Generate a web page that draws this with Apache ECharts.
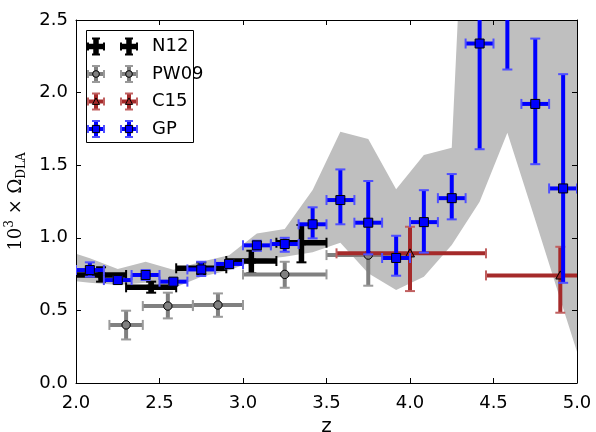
<!DOCTYPE html>
<html>
<head>
<meta charset="utf-8">
<script src="https://cdn.jsdelivr.net/npm/echarts@6/dist/echarts.min.js"></script>
<style>html,body{margin:0;padding:0;background:#fff;}#c{width:596px;height:432px;}</style>
</head>
<body>
<div id="c"></div>
<script>
// ---------- data ----------
const xTicks = [2.0, 2.5, 3.0, 3.5, 4.0, 4.5, 5.0];
const yTicks = [0.0, 0.5, 1.0, 1.5, 2.0, 2.5];

// GP
const gpZ   = [2.083,2.25,2.417,2.583,2.75,2.917,3.083,3.25,3.417,3.583,3.75,3.917,4.083,4.25,4.417,4.583,4.75,4.917];
const gpZlo = [2.0,2.167,2.333,2.5,2.667,2.833,3.0,3.167,3.333,3.5,3.667,3.833,4.0,4.167,4.333,4.5,4.667,4.833];
const gpZhi = [2.167,2.333,2.5,2.667,2.833,3.0,3.167,3.333,3.5,3.667,3.833,4.0,4.167,4.333,4.5,4.667,4.833,5.0];
const gpOmega = [0.778,0.709,0.744,0.698,0.782,0.820,0.948,0.957,1.093,1.26,1.104,0.861,1.108,1.273,2.338,2.85,1.922,1.34];
const gpLo    = [0.732,0.686,0.709,0.675,0.737,0.790,0.910,0.904,0.996,1.093,0.886,0.739,0.898,1.127,1.61,2.159,1.507,0.69];
const gpHi    = [0.831,0.732,0.778,0.720,0.835,0.847,0.980,1.000,1.210,1.471,1.391,1.014,1.328,1.439,3.07,3.55,2.372,2.127];

// N12
const n12Z   = [2.15,2.45,2.75,3.05,3.35];
const n12Zlo = [2.0,2.3,2.6,2.9,3.2];
const n12Zhi = [2.3,2.6,2.9,3.2,3.5];
const n12Omega = [0.744,0.659,0.79,0.84,0.966];
const n12Lo    = [0.698,0.622,0.75,0.755,0.831];
const n12Hi    = [0.797,0.698,0.83,0.911,1.088];

// PW09
const pwZ   = [2.3,2.55,2.85,3.25,3.75];
const pwZlo = [2.2,2.4,2.7,3.0,3.5];
const pwZhi = [2.4,2.7,3.0,3.5,4.0];
const pwOmega = [0.40,0.53,0.537,0.748,0.881];
const pwLo    = [0.30,0.445,0.456,0.656,0.67];
const pwHi    = [0.498,0.622,0.617,0.835,1.09];

// C15
const c15Z   = [4.0,4.9];
const c15Zlo = [3.56,4.455];
const c15Zhi = [4.455,5.35];
const c15Omega = [0.893,0.741];
const c15Lo    = [0.633,0.484];
const c15Hi    = [1.076,0.938];

// grey band
const bandZ  = [2.0,2.083,2.25,2.417,2.583,2.75,2.917,3.083,3.25,3.417,3.583,3.75,3.917,4.083,4.25,4.417,4.583,4.75,4.917,5.0];
const bandHi = [0.89,0.86,0.785,0.835,0.78,0.835,0.88,1.03,1.06,1.33,1.73,1.68,1.335,1.57,1.62,5.7,5.5,5.0,4.5,4.5];
const bandLo = [0.70,0.69,0.675,0.69,0.652,0.732,0.776,0.847,0.87,0.90,0.966,0.755,0.64,0.732,0.95,1.248,1.723,1.122,0.514,0.215];

const legendNames = ['N12','PW09','C15','GP'];

// ---------- styles ----------
const FONT = 'DejaVu Sans';
const styles = {
  N12:  {color:'#000000', cap:'#000000', lw:5.5, marker:'plus'},
  PW09: {color:'#808080', cap:'#9a9a9a', lw:4,   marker:'circle'},
  C15:  {color:'#a52a2a', cap:'#c06060', lw:4,   marker:'triangle'},
  GP:   {color:'#0000ff', cap:'#4f4fff', lw:4,   marker:'square'}
};

function markerShape(kind, cx, cy, color, scale, z) {
  const s = scale || 1;
  let el;
  if (kind === 'square') {
    const h = 4.5*s;
    el = {type:'rect', shape:{x:cx-h, y:cy-h, width:2*h, height:2*h}, style:{fill:color, stroke:'#000', lineWidth:1}};
  } else if (kind === 'circle') {
    el = {type:'circle', shape:{cx:cx, cy:cy, r:4.2*s}, style:{fill:color, stroke:'#000', lineWidth:1}};
  } else if (kind === 'triangle') {
    const h = 4.5*s;
    el = {type:'polygon', shape:{points:[[cx,cy-h],[cx-h,cy+h*0.8],[cx+h,cy+h*0.8]]}, style:{fill:color, stroke:'#000', lineWidth:1}};
  } else {
    const a = 4.5*s, w = 2.5*s;
    el = {type:'polygon', shape:{points:[[cx-w,cy-a],[cx+w,cy-a],[cx+w,cy-w],[cx+a,cy-w],[cx+a,cy+w],[cx+w,cy+w],[cx+w,cy+a],[cx-w,cy+a],[cx-w,cy+w],[cx-a,cy+w],[cx-a,cy-w],[cx-w,cy-w]]}, style:{fill:color}};
  }
  if (z !== undefined) el.z = z;
  return el;
}

function errorGroup(l, r, b, t, st, capLen, z) {
  const ch = [];
  const add = (e) => { if (z !== undefined) e.z = z; ch.push(e); };
  add({type:'line', shape:{x1:l[0], y1:l[1], x2:r[0], y2:r[1]}, style:{stroke:st.color, lineWidth:st.lw}});
  add({type:'line', shape:{x1:b[0], y1:b[1], x2:t[0], y2:t[1]}, style:{stroke:st.color, lineWidth:st.lw}});
  const cl = capLen;
  add({type:'line', shape:{x1:l[0], y1:l[1]-cl, x2:l[0], y2:l[1]+cl}, style:{stroke:st.cap, lineWidth:2}});
  add({type:'line', shape:{x1:r[0], y1:r[1]-cl, x2:r[0], y2:r[1]+cl}, style:{stroke:st.cap, lineWidth:2}});
  add({type:'line', shape:{x1:b[0]-cl, y1:b[1], x2:b[0]+cl, y2:b[1]}, style:{stroke:st.cap, lineWidth:2}});
  add({type:'line', shape:{x1:t[0]-cl, y1:t[1], x2:t[0]+cl, y2:t[1]}, style:{stroke:st.cap, lineWidth:2}});
  return ch;
}

function errSeries(name, z, zlo, zhi, v, lo, hi) {
  const st = styles[name];
  return {
    name: name, type:'custom', xAxisIndex:0, yAxisIndex:0, clip:true,
    data: z.map((x,i)=>[x, v[i], zlo[i], zhi[i], lo[i], hi[i]]),
    renderItem: function(params, api) {
      const c = api.coord([api.value(0), api.value(1)]);
      const l = api.coord([api.value(2), api.value(1)]);
      const r = api.coord([api.value(3), api.value(1)]);
      const b = api.coord([api.value(0), api.value(4)]);
      const t = api.coord([api.value(0), api.value(5)]);
      const ch = errorGroup(l, r, b, t, st, 5);
      ch.push(markerShape(st.marker, c[0], c[1], st.color, 1));
      const cs = params.coordSys;
      return {type:'group', children:ch, clipPath:{type:'rect', shape:{x:cs.x, y:cs.y, width:cs.width, height:cs.height}}};
    }
  };
}

const bandSeries = {
  name:'band', type:'custom', xAxisIndex:0, yAxisIndex:0, clip:true, z:0,
  data:[[0]],
  renderItem: function(params, api) {
    const top = bandZ.map((x,i)=>api.coord([x, bandHi[i]]));
    const bot = bandZ.map((x,i)=>api.coord([x, bandLo[i]])).reverse();
    const cs = params.coordSys;
    return {type:'polygon', shape:{points: top.concat(bot)}, style:{fill:'#bfbfbf'},
      clipPath:{type:'rect', shape:{x:cs.x, y:cs.y, width:cs.width, height:cs.height}}};
  }
};

// legend graphic (legend box, not data)
const legX = 86, legY = 30, legW = 107, legH = 112;
const rowY0 = 46.5, rowDY = 27.5;
const legendGraphic = [{type:'rect', shape:{x:legX+0.5, y:legY+0.5, width:legW, height:legH}, style:{fill:'#fff', stroke:'#000', lineWidth:1}, z:100}];
legendNames.forEach((n, i) => {
  const st = styles[n];
  const y = rowY0 + i*rowDY;
  [96, 129].forEach(cx => {
    errorGroup([cx-8,y], [cx+8,y], [cx,y+8], [cx,y-8], st, 4, 101).forEach(e => legendGraphic.push(e));
    legendGraphic.push(markerShape(st.marker, cx, y, st.color, 0.8, 102));
  });
  legendGraphic.push({type:'text', x:152, y:y, style:{text:n, fontFamily:FONT, fontSize:18, fill:'#000', textVerticalAlign:'middle', verticalAlign:'middle'}, z:101});
});

const fmt = v => Number(v).toFixed(1);
const axisCommon = {
  type:'value', axisLine:{show:true, onZero:false, lineStyle:{color:'#000', width:1}},
  axisTick:{show:true, inside:true, length:5, lineStyle:{color:'#000', width:1}},
  splitLine:{show:false}
};

const chart = echarts.init(document.getElementById('c'), null, {renderer:'canvas'});
chart.setOption({
  animation:false,
  backgroundColor:'#fff',
  grid:{left:76, right:19, top:20, bottom:49, containLabel:false, outerBoundsMode:'none'},
  xAxis:[
    Object.assign({}, axisCommon, {position:'bottom', min:xTicks[0], max:xTicks[xTicks.length-1], interval:0.5,
      axisLabel:{show:true, formatter:fmt, fontFamily:FONT, fontSize:18, color:'#000', margin:11},
      name:'z', nameLocation:'middle', nameGap:33, nameTextStyle:{fontFamily:FONT, fontSize:20, color:'#000'}}),
    Object.assign({}, axisCommon, {position:'top', min:xTicks[0], max:xTicks[xTicks.length-1], interval:0.5, axisLabel:{show:false}})
  ],
  yAxis:[
    Object.assign({}, axisCommon, {position:'left', min:yTicks[0], max:yTicks[yTicks.length-1], interval:0.5,
      axisLabel:{show:true, formatter:fmt, fontFamily:FONT, fontSize:18, color:'#000', margin:8},
      name:'{a|10}{sup|3}{a| × Ω}{sub|DLA}', nameLocation:'middle', nameRotate:90, nameGap:48,
      nameTextStyle:{color:'#000', rich:{
        a:{fontFamily:'DejaVu Serif', fontSize:18, color:'#000', lineHeight:24, verticalAlign:'middle'},
        sup:{fontFamily:'DejaVu Serif', fontSize:12, color:'#000', lineHeight:24, verticalAlign:'top', padding:[0,0,7,0]},
        sub:{fontFamily:'DejaVu Serif', fontSize:12, color:'#000', lineHeight:24, verticalAlign:'bottom', padding:[7,0,0,0]}
      }}}),
    Object.assign({}, axisCommon, {position:'right', min:yTicks[0], max:yTicks[yTicks.length-1], interval:0.5, axisLabel:{show:false}})
  ],
  series:[
    bandSeries,
    errSeries('N12', n12Z, n12Zlo, n12Zhi, n12Omega, n12Lo, n12Hi),
    errSeries('PW09', pwZ, pwZlo, pwZhi, pwOmega, pwLo, pwHi),
    errSeries('C15', c15Z, c15Zlo, c15Zhi, c15Omega, c15Lo, c15Hi),
    errSeries('GP', gpZ, gpZlo, gpZhi, gpOmega, gpLo, gpHi)
  ],
  graphic: legendGraphic
});
</script>
</body>
</html>
